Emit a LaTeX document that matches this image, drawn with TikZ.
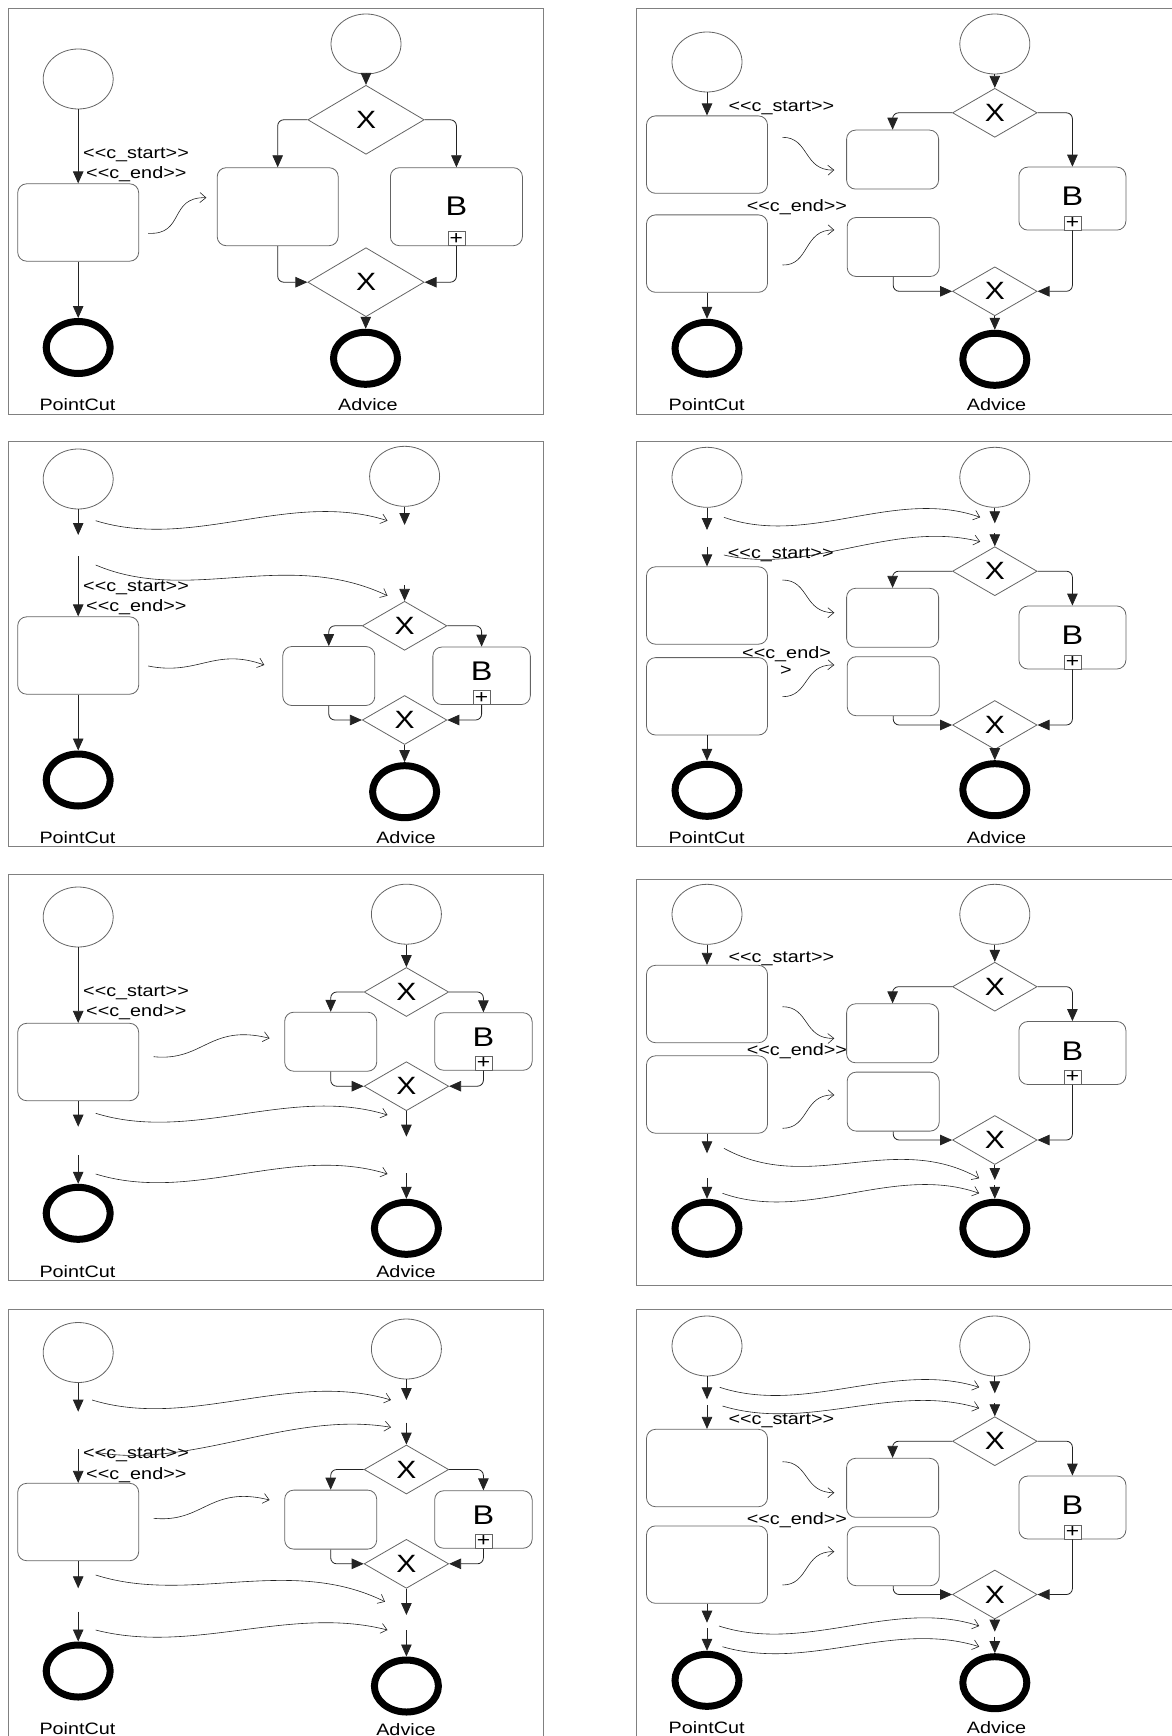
\documentclass[tikz,border=0pt]{standalone}
\usepackage{fontspec}
\newfontfamily\bpmnfamily{Liberation Sans}[FakeStretch=1.2]
\usepackage{xcolor}
\definecolor{FrameGray}{RGB}{128,128,128}
\definecolor{ShapeGray}{RGB}{100,100,100}
\definecolor{FlowGray}{RGB}{35,35,35}
\newcommand\lblfont{\bpmnfamily\fontsize{16.5}{19}\selectfont}
\newcommand\gatefont{\bpmnfamily\fontsize{25}{28}\selectfont}
\newcommand\taskfont{\bpmnfamily\fontsize{27}{30}\selectfont}
\newcommand\plusfont{\bpmnfamily\fontsize{19}{20}\selectfont}
\usetikzlibrary{
    arrows.meta,
    positioning,
    shapes.geometric
}

\begin{document}
\begin{tikzpicture}[
    x=1pt, y=-1pt,
%
    startev/.style={
        ellipse,
        draw=ShapeGray,
        line width=0.8pt,
        minimum width=70pt,
        minimum height=60pt,
        inner sep=0pt
    },
%
    endev/.style={
        ellipse,
        draw=black,
        line width=7pt,
        minimum width=64pt,
        minimum height=52pt,
        inner sep=0pt
    },
%
    task/.style={
        rectangle,
        rounded corners=9pt,
        draw=ShapeGray,
        line width=0.8pt,
        inner sep=0pt,
        font=\taskfont
    },
    pctask/.style={task, minimum width=121pt, minimum height=77.4pt},
    advtask/.style={task, minimum width=92pt, minimum height=59pt},
    subnarrow/.style={task, minimum width=97.5pt, minimum height=57.5pt, text depth=9pt},
    subwide/.style={task, minimum width=107pt, minimum height=63pt, text depth=4pt},
%
    plusbox/.style={
        rectangle,
        draw=ShapeGray,
        fill=white,
        line width=0.8pt,
        minimum width=17pt,
        minimum height=14pt,
        inner sep=0pt,
        font=\plusfont
    },
%
    gate/.style={
        diamond,
        draw=ShapeGray,
        line width=0.8pt,
        minimum width=84.6pt,
        minimum height=49pt,
        inner sep=0pt,
        font=\gatefont
    },
%
    flow/.style={
        -{Triangle[length=12pt,width=10.5pt]},
        line width=0.8pt,
        draw=FlowGray
    },
    branch/.style={flow, rounded corners=6pt},
%
    weave/.style={
        -{Straight Barb[length=6pt,width=10pt]},
        line width=0.6pt,
        draw=FlowGray
    },
%
    stereo/.style={font=\lblfont, inner sep=0pt, anchor=base west},
    caption/.style={font=\lblfont, inner sep=0pt, anchor=base},
    frame/.style={draw=FrameGray, line width=1pt}
]
\useasboundingbox (0,0) rectangle (1171,1736);
%
% Panel 1 (top left)
%
\draw[frame] (8,8.3) rectangle (543.6,414.3);
\node[startev] (p1s) at (78.2,79) {};
\node[pctask] (p1t) at (78.2,222.5) {};
\node[endev] (p1e) at (78.2,347.5) {};
\node[stereo] (p1cs) at (83,158.5) {<<c\_start>>};
\node[stereo] (p1ce) at (86,178.5) {<<c\_end>>};
\node[caption] (p1pc) at (77.5,410.7) {PointCut};
%
\node[startev] (p1as) at (366,44) {};
\node[gate, minimum width=116.4pt, minimum height=69pt] (p1g1) at (366,119.8) {X};
\node[task, minimum width=121pt, minimum height=78pt] (p1a) at (277.7,206.7) {};
\node[task, minimum width=132pt, minimum height=78pt] (p1b) at (456.4,206.7) {B};
\node[plusbox, above=0pt of p1b.south] (p1bp) {+};
\node[gate, minimum width=116.4pt, minimum height=69pt] (p1g2) at (366,282.2) {X};
\node[endev] (p1ae) at (365.5,358.3) {};
\node[caption] (p1ad) at (367.9,410.7) {Advice};
%
\draw[flow] (p1s) -- (p1t);
\draw[flow] (p1t) -- (p1e);
\draw[flow] (p1as) -- (p1g1);
\draw[branch] (p1g1.west) -| (p1a.north);
\draw[branch] (p1g1.east) -| (p1b.north);
\draw[branch] (p1a.south) |- (p1g2.west);
\draw[branch] (p1b.south) |- (p1g2.east);
\draw[flow] (p1g2) -- (p1ae);
\coordinate (p1w1s) at (148.2,233.3);
\coordinate (p1w1e) at (206.4,197.7);
\draw[weave] (p1w1s) .. controls +(37,2) and +(-38,-1) .. (p1w1e);
%
% Panel 2 (top right)
%
\draw[frame] (636.2,8.3) rectangle (1180,414.3);
\node[startev] (p2s) at (707,62) {};
\node[pctask] (p2t1) at (707,154.6) {};
\node[pctask] (p2t2) at (707,253.6) {};
\node[endev] (p2e) at (707,348.3) {};
\node[stereo] (p2cs) at (728.3,112) {<<c\_start>>};
\node[stereo] (p2ce) at (746.6,212) {<<c\_end>>};
\node[caption] (p2pc) at (706.6,410) {PointCut};
%
\node[startev] (p2as) at (994.8,44) {};
\node[gate] (p2g1) at (994.8,112.8) {X};
\node[advtask] (p2a) at (892.6,159.6) {};
\node[subwide] (p2b) at (1072.4,198.6) {B};
\node[plusbox, above=0pt of p2b.south] (p2bp) {+};
\node[advtask] (p2c) at (893.2,247) {};
\node[gate] (p2g2) at (994.8,291.3) {X};
\node[endev] (p2ae) at (994.8,359.3) {};
\node[caption] (p2ad) at (996.5,410) {Advice};
%
\draw[flow] (p2s) -- (p2t1);
\draw[flow] (p2t2) -- (p2e);
\draw[flow] (p2as) -- (p2g1);
\draw[branch] (p2g1.west) -| (p2a.north);
\draw[branch] (p2g1.east) -| (p2b.north);
\draw[branch] (p2c.south) |- (p2g2.west);
\draw[branch] (p2b.south) |- (p2g2.east);
\draw[flow] (p2g2) -- (p2ae);
\coordinate (p2w1s) at (782.5,137.3);
\coordinate (p2w1e) at (834.3,170);
\coordinate (p2w2s) at (782.5,265);
\coordinate (p2w2e) at (834.3,230);
\draw[weave] (p2w1s) .. controls +(27,0) and +(-31,1) .. (p2w1e);
\draw[weave] (p2w2s) .. controls +(27,1) and +(-31,-1) .. (p2w2e);
%
% Panel 3 (second row left)
%
\draw[frame] (8,441.7) rectangle (543.6,846.7);
\node[startev] (p3s) at (78.2,479) {};
\coordinate (p3d1) at (78.2,535);
\coordinate (p3d2) at (78.2,556);
\node[pctask] (p3t) at (78.2,655.5) {};
\node[endev] (p3e) at (78.2,780) {};
\node[stereo] (p3cs) at (83,591.5) {<<c\_start>>};
\node[stereo] (p3ce) at (86,611.5) {<<c\_end>>};
\node[caption] (p3pc) at (77.5,843.3) {PointCut};
%
\node[startev] (p3as) at (404.6,476.3) {};
\coordinate (p3q1) at (404.6,525);
\coordinate (p3q2) at (404.6,585);
\node[gate] (p3g1) at (404.6,625.8) {X};
\node[advtask] (p3a) at (328.8,676) {};
\node[subnarrow] (p3b) at (481.6,675.8) {B};
\node[plusbox, above=0pt of p3b.south] (p3bp) {+};
\node[gate] (p3g2) at (404.6,720) {X};
\node[endev] (p3ae) at (404.6,791.7) {};
\node[caption] (p3ad) at (406,843.3) {Advice};
%
\draw[flow] (p3s) -- (p3d1);
\draw[flow] (p3d2) -- (p3t);
\draw[flow] (p3t) -- (p3e);
\draw[flow] (p3as) -- (p3q1);
\draw[flow] (p3q2) -- (p3g1);
\draw[branch] (p3g1.west) -| (p3a.north);
\draw[branch] (p3g1.east) -| (p3b.north);
\draw[branch] (p3a.south) |- (p3g2.west);
\draw[branch] (p3b.south) |- (p3g2.east);
\draw[flow] (p3g2) -- (p3ae);
\coordinate (p3w1s) at (95.7,520.7);
\coordinate (p3w1e) at (387.5,520.7);
\coordinate (p3w2s) at (95.7,565);
\coordinate (p3w2e) at (387.5,595.7);
\coordinate (p3w3s) at (148.2,666);
\coordinate (p3w3e) at (264.3,665);
\draw[weave] (p3w1s) .. controls +(97,30) and +(-97,-31) .. (p3w1e);
\draw[weave] (p3w2s) .. controls +(94,40) and +(-102,-48) .. (p3w2e);
\draw[weave] (p3w3s) .. controls +(50,10) and +(-50,-18) .. (p3w3e);
%
% Panel 4 (second row right)
%
\draw[frame] (636.2,441.7) rectangle (1180,846.7);
\node[startev] (p4s) at (707,477.3) {};
\coordinate (p4d1) at (707,530);
\coordinate (p4d2) at (707,546.7);
\node[pctask] (p4t1) at (707,605.5) {};
\node[pctask] (p4t2) at (707,696.3) {};
\node[endev] (p4e) at (707,790.3) {};
\node[stereo] (p4cs) at (727.7,558) {<<c\_start>>};
\node[stereo] (p4ce) at (742,658.3) {<<c\_end>};
\node[stereo] (p4cx) at (780,675) {>};
\node[caption] (p4pc) at (706.6,843.3) {PointCut};
%
\node[startev] (p4as) at (994.8,477.3) {};
\coordinate (p4q1) at (994.8,523.3);
\coordinate (p4q2) at (994.8,533.3);
\node[gate] (p4g1) at (994.8,571.2) {X};
\node[advtask] (p4a) at (892.6,617.8) {};
\node[subwide] (p4b) at (1072.4,637.5) {B};
\node[plusbox, above=0pt of p4b.south] (p4bp) {+};
\node[advtask] (p4c) at (893.2,686.2) {};
\node[gate] (p4g2) at (994.8,725) {X};
\node[endev] (p4ae) at (994.8,789.7) {};
\node[caption] (p4ad) at (996.5,843.3) {Advice};
%
\draw[flow] (p4s) -- (p4d1);
\draw[flow] (p4d2) -- (p4t1);
\draw[flow] (p4t2) -- (p4e);
\draw[flow] (p4as) -- (p4q1);
\draw[flow] (p4q2) -- (p4g1);
\draw[branch] (p4g1.west) -| (p4a.north);
\draw[branch] (p4g1.east) -| (p4b.north);
\draw[branch] (p4c.south) |- (p4g2.west);
\draw[branch] (p4b.south) |- (p4g2.east);
\draw[flow] (p4g2) -- (p4ae);
\coordinate (p4w1s) at (723.9,517.3);
\coordinate (p4w1e) at (980.2,517.3);
\coordinate (p4w2s) at (723.9,555);
\coordinate (p4w2e) at (980.2,541.7);
\coordinate (p4w3s) at (782.5,580);
\coordinate (p4w3e) at (834.3,612.7);
\coordinate (p4w4s) at (782.5,696.7);
\coordinate (p4w4e) at (834.3,665);
\draw[weave] (p4w1s) .. controls +(85,30) and +(-85,-30) .. (p4w1e);
\draw[weave] (p4w2s) .. controls +(86,20) and +(-87,-22) .. (p4w2e);
\draw[weave] (p4w3s) .. controls +(27,0) and +(-31,0) .. (p4w3e);
\draw[weave] (p4w4s) .. controls +(27,0) and +(-31,-1) .. (p4w4e);
%
% Panel 5 (third row left)
%
\draw[frame] (8,874.3) rectangle (543.6,1280);
\node[startev] (p5s) at (78.2,917) {};
\node[pctask] (p5t) at (78.2,1062) {};
\coordinate (p5d1) at (78.2,1126.7);
\coordinate (p5d2) at (78.2,1155);
\node[endev] (p5e) at (78.2,1213.3) {};
\node[stereo] (p5cs) at (83,996.7) {<<c\_start>>};
\node[stereo] (p5ce) at (86,1016.7) {<<c\_end>>};
\node[caption] (p5pc) at (77.5,1277.3) {PointCut};
%
\node[startev] (p5as) at (406.4,914.2) {};
\node[gate] (p5g1) at (406.4,992) {X};
\node[advtask] (p5a) at (330.7,1041.7) {};
\node[subnarrow] (p5b) at (483.4,1041.5) {B};
\node[plusbox, above=0pt of p5b.south] (p5bp) {+};
\node[gate] (p5g2) at (406.4,1086.2) {X};
\coordinate (p5q1) at (406.4,1136.7);
\coordinate (p5q2) at (406.4,1173.3);
\node[endev] (p5ae) at (406.4,1228.3) {};
\node[caption] (p5ad) at (406,1277.3) {Advice};
%
\draw[flow] (p5s) -- (p5t);
\draw[flow] (p5t) -- (p5d1);
\draw[flow] (p5d2) -- (p5e);
\draw[flow] (p5as) -- (p5g1);
\draw[branch] (p5g1.west) -| (p5a.north);
\draw[branch] (p5g1.east) -| (p5b.north);
\draw[branch] (p5a.south) |- (p5g2.west);
\draw[branch] (p5b.south) |- (p5g2.east);
\draw[flow] (p5g2) -- (p5q1);
\draw[flow] (p5q2) -- (p5ae);
\coordinate (p5w1s) at (153.6,1056.7);
\coordinate (p5w1e) at (269.6,1038.3);
\coordinate (p5w2s) at (95.7,1113.3);
\coordinate (p5w2e) at (387.5,1115);
\coordinate (p5w3s) at (95.7,1174);
\coordinate (p5w3e) at (387.5,1174);
\draw[weave] (p5w1s) .. controls +(50,5) and +(-60,-15) .. (p5w1e);
\draw[weave] (p5w2s) .. controls +(97,30) and +(-97,-30) .. (p5w2e);
\draw[weave] (p5w3s) .. controls +(97,30) and +(-97,-30) .. (p5w3e);
%
% Panel 6 (third row right)
%
\draw[frame] (636.2,879) rectangle (1180,1285);
\node[startev] (p6s) at (707,914.3) {};
\node[pctask] (p6t1) at (707,1004) {};
\node[pctask] (p6t2) at (707,1094.5) {};
\coordinate (p6d1) at (707,1153.3);
\coordinate (p6d2) at (707,1178.3);
\node[endev] (p6e) at (707,1228.3) {};
\node[stereo] (p6cs) at (728.3,962.3) {<<c\_start>>};
\node[stereo] (p6ce) at (746.6,1055.7) {<<c\_end>>};
%
\node[startev] (p6as) at (994.8,914.3) {};
\node[gate] (p6g1) at (994.8,986.7) {X};
\node[advtask] (p6a) at (892.6,1033.3) {};
\node[subwide] (p6b) at (1072.4,1053) {B};
\node[plusbox, above=0pt of p6b.south] (p6bp) {+};
\node[advtask] (p6c) at (893.2,1101.6) {};
\node[gate] (p6g2) at (994.8,1140) {X};
\coordinate (p6q1) at (994.8,1180);
\coordinate (p6q2) at (994.8,1185);
\node[endev] (p6ae) at (994.8,1228.3) {};
%
\draw[flow] (p6s) -- (p6t1);
\draw[flow] (p6t2) -- (p6d1);
\draw[flow] (p6d2) -- (p6e);
\draw[flow] (p6as) -- (p6g1);
\draw[branch] (p6g1.west) -| (p6a.north);
\draw[branch] (p6g1.east) -| (p6b.north);
\draw[branch] (p6c.south) |- (p6g2.west);
\draw[branch] (p6b.south) |- (p6g2.east);
\draw[flow] (p6g2) -- (p6q1);
\draw[flow] (p6q2) -- (p6ae);
\coordinate (p6w1s) at (782.5,1006.7);
\coordinate (p6w1e) at (834.3,1038.3);
\coordinate (p6w2s) at (782.5,1128.3);
\coordinate (p6w2e) at (834.3,1095);
\coordinate (p6w3s) at (723.9,1148.3);
\coordinate (p6w3e) at (979.2,1178.3);
\coordinate (p6w4s) at (722.5,1193.3);
\coordinate (p6w4e) at (979.2,1193.3);
\draw[weave] (p6w1s) .. controls +(27,0) and +(-31,1) .. (p6w1e);
\draw[weave] (p6w2s) .. controls +(27,0) and +(-31,-1) .. (p6w2e);
\draw[weave] (p6w3s) .. controls +(86,47) and +(-86,-48) .. (p6w3e);
\draw[weave] (p6w4s) .. controls +(85,30) and +(-85,-30) .. (p6w4e);
%
% Panel 7 (bottom left)
%
\draw[frame] (8,1309.3) rectangle (543.6,1745);
\node[startev] (p7s) at (78.2,1352.5) {};
\coordinate (p7d1) at (78.2,1411.7);
\coordinate (p7d2) at (78.2,1449.3);
\node[pctask] (p7t) at (78.2,1522) {};
\coordinate (p7d3) at (78.2,1588.3);
\coordinate (p7d4) at (78.2,1611.7);
\node[endev] (p7e) at (78.2,1671) {};
\node[stereo] (p7cs) at (83,1458) {<<c\_start>>};
\node[stereo] (p7ce) at (86,1479) {<<c\_end>>};
\node[caption] (p7pc) at (77.5,1734) {PointCut};
%
\node[startev] (p7as) at (406.4,1349) {};
\coordinate (p7q1) at (406.4,1400);
\coordinate (p7q2) at (406.4,1422.7);
\node[gate] (p7g1) at (406.4,1469.5) {X};
\node[advtask] (p7a) at (330.7,1519.6) {};
\node[subnarrow] (p7b) at (483.4,1519.5) {B};
\node[plusbox, above=0pt of p7b.south] (p7bp) {+};
\node[gate] (p7g2) at (406.4,1563.8) {X};
\coordinate (p7q3) at (406.4,1615);
\coordinate (p7q4) at (406.4,1630);
\node[endev] (p7ae) at (406.4,1686) {};
\node[caption] (p7ad) at (406,1735) {Advice};
%
\draw[flow] (p7s) -- (p7d1);
\draw[flow] (p7d2) -- (p7t);
\draw[flow] (p7t) -- (p7d3);
\draw[flow] (p7d4) -- (p7e);
\draw[flow] (p7as) -- (p7q1);
\draw[flow] (p7q2) -- (p7g1);
\draw[branch] (p7g1.west) -| (p7a.north);
\draw[branch] (p7g1.east) -| (p7b.north);
\draw[branch] (p7a.south) |- (p7g2.west);
\draw[branch] (p7b.south) |- (p7g2.east);
\draw[flow] (p7g2) -- (p7q3);
\draw[flow] (p7q4) -- (p7ae);
\coordinate (p7w1s) at (92.1,1400);
\coordinate (p7w1e) at (391,1400);
\coordinate (p7w2s) at (95,1452);
\coordinate (p7w2e) at (391,1427.3);
\coordinate (p7w3s) at (153.6,1518.3);
\coordinate (p7w3e) at (269.6,1500);
\coordinate (p7w4s) at (95.7,1575);
\coordinate (p7w4e) at (385,1601.7);
\coordinate (p7w5s) at (95.7,1630);
\coordinate (p7w5e) at (387.5,1630);
\draw[weave] (p7w1s) .. controls +(98,30) and +(-101,-30) .. (p7w1e);
\draw[weave] (p7w2s) .. controls +(95,18) and +(-101,-17) .. (p7w2e);
\draw[weave] (p7w3s) .. controls +(50,5) and +(-60,-15) .. (p7w3e);
\draw[weave] (p7w4s) .. controls +(94,30) and +(-95,-47) .. (p7w4e);
\draw[weave] (p7w5s) .. controls +(97,25) and +(-97,-25) .. (p7w5e);
%
% Panel 8 (bottom right)
%
\draw[frame] (636.2,1309.3) rectangle (1180,1745);
\node[startev] (p8s) at (707,1346) {};
\coordinate (p8d1) at (707,1399.3);
\coordinate (p8d2) at (707,1405);
\node[pctask] (p8t1) at (707,1468) {};
\node[pctask] (p8t2) at (707,1564.6) {};
\coordinate (p8d3) at (707,1622.7);
\coordinate (p8d4) at (707,1628.3);
\node[endev] (p8e) at (707,1680.3) {};
\node[stereo] (p8cs) at (728.3,1424) {<<c\_start>>};
\node[stereo] (p8ce) at (746.6,1524) {<<c\_end>>};
\node[caption] (p8pc) at (706.6,1733.5) {PointCut};
%
\node[startev] (p8as) at (994.8,1346) {};
\coordinate (p8q1) at (994.8,1393.3);
\coordinate (p8q2) at (994.8,1403.3);
\node[gate] (p8g1) at (994.8,1441.2) {X};
\node[advtask] (p8a) at (892.6,1487.8) {};
\node[subwide] (p8b) at (1072.4,1507.5) {B};
\node[plusbox, above=0pt of p8b.south] (p8bp) {+};
\node[advtask] (p8c) at (893.2,1556.2) {};
\node[gate] (p8g2) at (994.8,1594.5) {X};
\coordinate (p8q3) at (994.8,1631.7);
\coordinate (p8q4) at (994.8,1636.7);
\node[endev] (p8ae) at (994.8,1682.7) {};
\node[caption] (p8ad) at (996.5,1733.5) {Advice};
%
\draw[flow] (p8s) -- (p8d1);
\draw[flow] (p8d2) -- (p8t1);
\draw[flow] (p8t2) -- (p8d3);
\draw[flow] (p8d4) -- (p8e);
\draw[flow] (p8as) -- (p8q1);
\draw[flow] (p8q2) -- (p8g1);
\draw[branch] (p8g1.west) -| (p8a.north);
\draw[branch] (p8g1.east) -| (p8b.north);
\draw[branch] (p8c.south) |- (p8g2.west);
\draw[branch] (p8b.south) |- (p8g2.east);
\draw[flow] (p8g2) -- (p8q3);
\draw[flow] (p8q4) -- (p8ae);
\coordinate (p8w1s) at (719.7,1387.3);
\coordinate (p8w1e) at (979.2,1387.3);
\coordinate (p8w2s) at (722.5,1406);
\coordinate (p8w2e) at (979.2,1408.3);
\coordinate (p8w3s) at (782.5,1461.7);
\coordinate (p8w3e) at (834.3,1492.7);
\coordinate (p8w4s) at (782.5,1585);
\coordinate (p8w4e) at (834.3,1551.7);
\coordinate (p8w5s) at (719,1626);
\coordinate (p8w5e) at (979.2,1626);
\coordinate (p8w6s) at (722.5,1646.7);
\coordinate (p8w6e) at (979.2,1646.7);
\draw[weave] (p8w1s) .. controls +(86,28) and +(-86,-27) .. (p8w1e);
\draw[weave] (p8w2s) .. controls +(86,26) and +(-85,-26) .. (p8w2e);
\draw[weave] (p8w3s) .. controls +(27,0) and +(-31,0) .. (p8w3e);
\draw[weave] (p8w4s) .. controls +(27,0) and +(-31,-1) .. (p8w4e);
\draw[weave] (p8w5s) .. controls +(87,28) and +(-86,-28) .. (p8w5e);
\draw[weave] (p8w6s) .. controls +(86,25) and +(-86,-27) .. (p8w6e);
\end{tikzpicture}
\end{document}
